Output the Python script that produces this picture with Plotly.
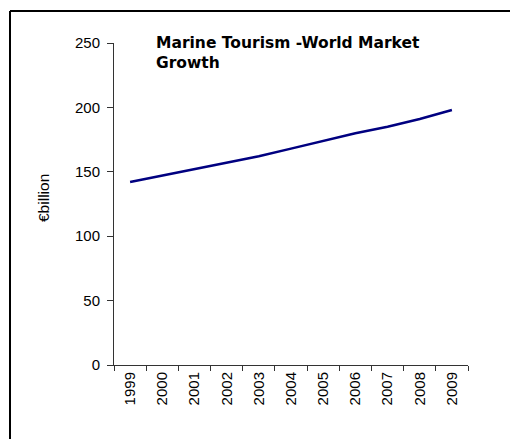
import plotly.graph_objects as go

years = ["1999", "2000", "2001", "2002", "2003", "2004", "2005", "2006", "2007", "2008", "2009"]
market_bn = [142, 147, 152, 157, 162, 168, 174, 180, 185, 191, 198]
y_ticks = [0, 50, 100, 150, 200, 250]

title_text = "Marine Tourism -World Market<br>Growth"
y_title = "€billion"

W, H = 510, 439
L, R, T, B = 114, 42, 43, 74
pw, ph = W - L - R, H - T - B

def px_x(p):
    return (p - L) / pw

def px_y(p):
    return (H - B - p) / ph

fig = go.Figure()
fig.add_trace(go.Scatter(
    x=years, y=market_bn, mode="lines",
    line=dict(color="#000080", width=2.5),
    hoverinfo="skip", showlegend=False,
))

axis_font = dict(family="Liberation Sans, Arial, sans-serif", size=15, color="#000")
border = dict(color="#000", width=2)

fig.update_layout(
    width=W, height=H,
    margin=dict(l=L, r=R, t=T, b=B, autoexpand=False),
    paper_bgcolor="white", plot_bgcolor="white",
    xaxis=dict(
        type="category", range=[-0.5, len(years) - 0.5],
        tickson="boundaries", ticks="outside", ticklen=5, tickcolor="#333",
        showline=True, linecolor="#333", linewidth=1,
        showgrid=False, zeroline=False,
        tickangle=-90, tickfont=axis_font, fixedrange=True,
    ),
    yaxis=dict(
        range=[0, 250], tickvals=y_ticks, ticks="outside", ticklen=6, tickcolor="#333",
        showline=True, linecolor="#333", linewidth=1,
        showgrid=False, zeroline=False, tickfont=axis_font,
        ticklabelstandoff=4, fixedrange=True,
    ),
    shapes=[
        dict(type="line", xref="paper", yref="paper",
             x0=px_x(10), x1=px_x(W), y0=px_y(11), y1=px_y(11), line=border, layer="below"),
        dict(type="line", xref="paper", yref="paper",
             x0=px_x(10), x1=px_x(10), y0=px_y(11), y1=px_y(H), line=border, layer="below"),
    ],
    annotations=[
        dict(text=title_text, xref="paper", yref="paper",
             x=px_x(154), y=px_y(32), xanchor="left", yanchor="top", align="left",
             showarrow=False,
             font=dict(family="DejaVu Sans, Verdana, sans-serif", size=15.5, color="#000", weight="bold")),
        dict(text=y_title, xref="paper", yref="paper",
             x=px_x(43), y=px_y(198), xanchor="center", yanchor="middle",
             textangle=-90, showarrow=False,
             font=dict(family="Liberation Sans, Arial, sans-serif", size=15.5, color="#000")),
    ],
)

fig.write_html(
    "out.html",
    config={"displayModeBar": False, "staticPlot": True},
    post_script=(
        "document.documentElement.style.overflow='hidden';"
        "document.body.style.margin='0';document.body.style.overflow='hidden';"
    ),
)
